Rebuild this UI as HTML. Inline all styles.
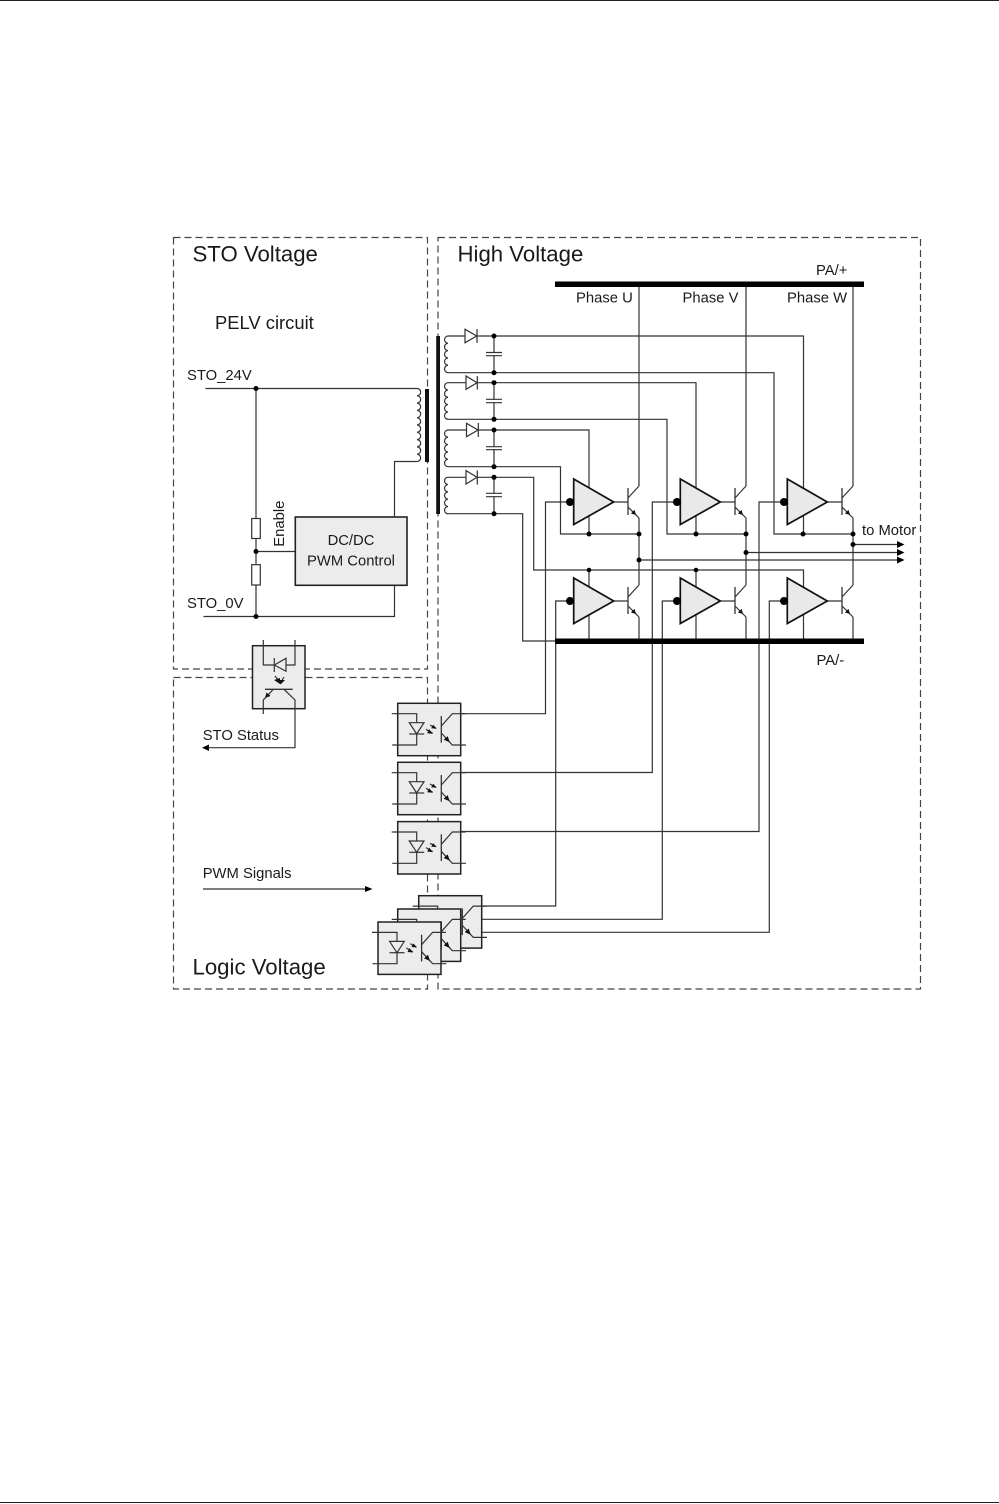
<!DOCTYPE html>
<html><head><meta charset="utf-8"><style>
html,body{margin:0;padding:0;background:#fff}
svg{display:block}
text{font-family:"Liberation Sans",sans-serif;fill:#1a1a1a;font-size:14.8px}
.b{font-size:22.2px}
</style></head><body>
<svg width="999" height="1504" viewBox="0 0 999 1504" xmlns="http://www.w3.org/2000/svg">
<defs>
<g id="T" fill="none" stroke="#333" stroke-width="1.2">
<path d="M0 -14V13" stroke-width="1.3"/>
<path d="M0 -4L11 -16M0 5L11 16"/>
<path d="M8 13L2.900 11.500L6.500 7.900Z" fill="#111" stroke="none"/>
</g>
<path id="D" d="M0 -23V22.500L40 0Z" fill="#e9e9e9" stroke="#111" stroke-width="1.700"/>
<g id="O">
<rect x="0" y="0" width="63" height="52.400" fill="#ececec" stroke="#222" stroke-width="1.500"/>
<g fill="none" stroke="#333" stroke-width="1.200">
<path d="M-6 10.400H19V41.700H-5.500"/>
<path d="M11.600 19.400H26.300L19 30.700Z" fill="#ececec"/>
<path d="M11.500 30.700H26.500"/>
<path d="M32.300 21.700L38.300 25M28.300 26L35 30"/>
<path d="M43.600 12.700V39.400" stroke-width="1.300"/>
<path d="M43.600 22.700L54.600 10.400H68M43.600 29.700L54.600 41.700H68.300"/>
</g>
<path d="M39 25.500L35.500 21.500L33.500 25ZM35 30.500L31.500 26L29.500 30ZM52 39L50 32.800L46 36.400Z" fill="#111"/>
</g>
</defs>

<rect x="0" y="0" width="999" height="1" fill="#222"/>
<rect x="0" y="1502" width="999" height="1" fill="#222"/>

<g fill="none" stroke="#444" stroke-width="1.200" stroke-dasharray="7 4">
<rect x="173.500" y="237.500" width="254" height="431.500"/>
<rect x="173.500" y="677.500" width="254" height="311.500"/>
<rect x="438" y="237.500" width="482.500" height="751.500"/>
</g>

<g fill="none" stroke="#333" stroke-width="1.200">
<path d="M205.500 388.500H417"/>
<path d="M256 388.500V616.500"/>
<path d="M203.500 616.500H394.500V585"/>
<path d="M256 551.500H295"/>
<path d="M394.500 517V461.500H417"/>
<path d="M417 388.500a3.640 3.640 0 0 1 0 7.300a3.640 3.640 0 0 1 0 7.300a3.640 3.640 0 0 1 0 7.300a3.640 3.640 0 0 1 0 7.300a3.640 3.640 0 0 1 0 7.300a3.640 3.640 0 0 1 0 7.300a3.640 3.640 0 0 1 0 7.300a3.640 3.640 0 0 1 0 7.300a3.640 3.640 0 0 1 0 7.300a3.640 3.640 0 0 1 0 7.300"/>
<path d="M448 336a3.670 3.670 0 0 0 0 7.330a3.670 3.670 0 0 0 0 7.330a3.670 3.670 0 0 0 0 7.330a3.670 3.670 0 0 0 0 7.330a3.670 3.670 0 0 0 0 7.330"/>
<path d="M448 382.700a3.670 3.670 0 0 0 0 7.330a3.670 3.670 0 0 0 0 7.330a3.670 3.670 0 0 0 0 7.330a3.670 3.670 0 0 0 0 7.330a3.670 3.670 0 0 0 0 7.330"/>
<path d="M448 430a3.670 3.670 0 0 0 0 7.330a3.670 3.670 0 0 0 0 7.330a3.670 3.670 0 0 0 0 7.330a3.670 3.670 0 0 0 0 7.330a3.670 3.670 0 0 0 0 7.330"/>
<path d="M448 477.200a3.670 3.670 0 0 0 0 7.330a3.670 3.670 0 0 0 0 7.330a3.670 3.670 0 0 0 0 7.330a3.670 3.670 0 0 0 0 7.330a3.670 3.670 0 0 0 0 7.330"/>

<path d="M448 336H803.500V534"/>
<path d="M448 372.700H774V534H853"/>
<path d="M448 382.700H696V534"/>
<path d="M448 419.300H667V534H746"/>
<path d="M448 430H589V534"/>
<path d="M448 466.700H560.500V534H639"/>
<path d="M448 477.300H533.700V570H803.500V641"/>
<path d="M448 513.700H522.700V641H556"/>
<path d="M589 570V641M696 570V641"/>
<path d="M494 336V372.700M494 382.700V419.300M494 430V466.700M494 477.300V513.700"/>
<path d="M639 284V486M639 518V585M639 617V641"/>
<path d="M746 284V486M746 518V585M746 617V641"/>
<path d="M853 284V486M853 518V585M853 617V641"/>
<path d="M853 544.500H898M746 552.500H898M639 560H898"/>
<path d="M613 502H628M720 502H735M827 502H842M613 601H628M720 601H735M827 601H842"/>
<path d="M452 713.700H545.500V502H573"/>
<path d="M452 772.500H652.300V502H680"/>
<path d="M452 831.500H759V502H787"/>
<path d="M473 906H555.700V601H573"/>
<path d="M452 919.300H662.300V601H680"/>
<path d="M432 932.300H769.300V601H787"/>
<path d="M203 889H365"/>
</g>

<g fill="#fff" stroke="#333" stroke-width="1.200">
<path d="M465 329.300V342.700L476.700 336Z"/><path d="M477 329V343"/>
<path d="M466 376V389.400L477 382.700Z"/><path d="M477.300 376V389.500"/>
<path d="M466.500 423.300V436.700L478 430Z"/><path d="M478.300 423V437"/>
<path d="M466 470.600V484L477 477.300Z"/><path d="M477.300 470.500V484.500"/>
</g>
<g fill="#fff" stroke="none">
<rect x="490" y="353" width="8" height="2.200"/><rect x="490" y="400" width="8" height="2.200"/><rect x="490" y="447.200" width="8" height="2"/><rect x="490" y="494" width="8" height="2.200"/>
</g>
<path d="M486 352.500H502M486 355.700H502M486 399.300H502M486 402.700H502M486 446.700H502M486 449.700H502M486 493.300H502M486 496.700H502" fill="none" stroke="#333" stroke-width="1.200"/>

<rect x="555" y="281.500" width="309" height="5.500" fill="#000"/>
<rect x="555" y="638.500" width="309" height="5.500" fill="#000"/>
<rect x="425" y="389" width="4" height="73" fill="#111"/>
<rect x="436.200" y="336" width="3.800" height="178" fill="#111"/>

<use href="#D" x="573.700" y="502"/><use href="#D" x="680.300" y="502"/><use href="#D" x="787.300" y="502"/>
<use href="#D" x="573.700" y="601"/><use href="#D" x="680.300" y="601"/><use href="#D" x="787.300" y="601"/>
<use href="#T" x="628" y="502"/><use href="#T" x="735" y="502"/><use href="#T" x="842" y="502"/>
<use href="#T" x="628" y="601"/><use href="#T" x="735" y="601"/><use href="#T" x="842" y="601"/>

<g fill="#000">
<circle cx="570" cy="502" r="4"/><circle cx="677" cy="502" r="4"/><circle cx="784" cy="502" r="4"/>
<circle cx="570" cy="601" r="4"/><circle cx="677" cy="601" r="4"/><circle cx="784" cy="601" r="4"/>
<circle cx="494" cy="336" r="2.500"/><circle cx="494" cy="372.700" r="2.500"/><circle cx="494" cy="382.700" r="2.500"/><circle cx="494" cy="419.300" r="2.500"/><circle cx="494" cy="430" r="2.500"/><circle cx="494" cy="466.700" r="2.500"/><circle cx="494" cy="477.300" r="2.500"/><circle cx="494" cy="513.700" r="2.500"/>
<circle cx="589" cy="534" r="2.500"/><circle cx="639" cy="534" r="2.500"/><circle cx="696" cy="534" r="2.500"/><circle cx="746" cy="534" r="2.500"/><circle cx="803" cy="534" r="2.500"/><circle cx="853" cy="534" r="2.500"/>
<circle cx="853" cy="544.500" r="2.500"/><circle cx="746" cy="552.500" r="2.500"/><circle cx="639" cy="560" r="2.500"/>
<circle cx="589" cy="570" r="2.300"/><circle cx="696" cy="570" r="2.300"/>
<circle cx="256" cy="388.500" r="2.500"/><circle cx="256" cy="551.500" r="2.500"/><circle cx="256" cy="616.500" r="2.500"/>
<path d="M897 541V548L904.500 544.500ZM897 549V556L904.500 552.500ZM897 556.500V563.500L904.500 560Z"/>
<path d="M365 886L372.500 889L365 892Z"/>
<path d="M202 747.700L209 744.500V751Z"/>
</g>

<rect x="251.700" y="518.500" width="8.600" height="20" fill="#fff" stroke="#333" stroke-width="1.200"/>
<rect x="251.700" y="564.700" width="8.600" height="20.300" fill="#fff" stroke="#333" stroke-width="1.200"/>
<rect x="295.300" y="517" width="111.700" height="68.300" fill="#ececec" stroke="#222" stroke-width="1.600"/>

<rect x="252.500" y="645.700" width="52.500" height="63" fill="#ececec" stroke="#222" stroke-width="1.500"/>
<g fill="none" stroke="#333" stroke-width="1.200">
<path d="M263.300 640V665H295V640"/>
<path d="M274.300 665L286 658.300V671.300Z" fill="#ececec"/>
<path d="M274.300 658V672"/>
<path d="M265 689.300H292.700" stroke-width="1.300"/>
<path d="M263.300 714V700L273.300 689.300M284 689.300L295 700V747.700H208"/>
<path d="M275 676L279 681M284 677L281 682"/>
</g>
<path d="M274 680L280 684L280 678ZM278.500 680L280.500 684.500L285 680ZM265 698L266.500 692.500L270.500 696Z" fill="#111"/>

<use href="#O" x="397.700" y="703.300"/>
<use href="#O" x="397.700" y="762.300"/>
<use href="#O" x="397.700" y="821.600"/>
<use href="#O" x="418.700" y="895.700"/>
<use href="#O" x="397.700" y="909"/>
<use href="#O" x="378" y="922"/>

<text class="b" x="192.500" y="261.700">STO Voltage</text>
<text class="b" x="457.500" y="261.700">High Voltage</text>
<text class="b" x="192.500" y="974.500">Logic Voltage</text>
<text x="215" y="329" style="font-size:18.400px">PELV circuit</text>
<text x="187" y="380">STO_24V</text>
<text x="187" y="608">STO_0V</text>
<text x="202.700" y="740">STO Status</text>
<text x="202.700" y="878">PWM Signals</text>
<text x="576" y="302.700">Phase U</text>
<text x="682.500" y="302.700">Phase V</text>
<text x="787" y="302.700">Phase W</text>
<text x="816" y="275">PA/+</text>
<text x="816.500" y="665">PA/-</text>
<text x="862" y="535">to Motor</text>
<text x="351" y="545" text-anchor="middle">DC/DC</text>
<text x="351" y="565.500" text-anchor="middle">PWM Control</text>
<text transform="translate(284 546.700) rotate(-90)">Enable</text>
</svg>
</body></html>
